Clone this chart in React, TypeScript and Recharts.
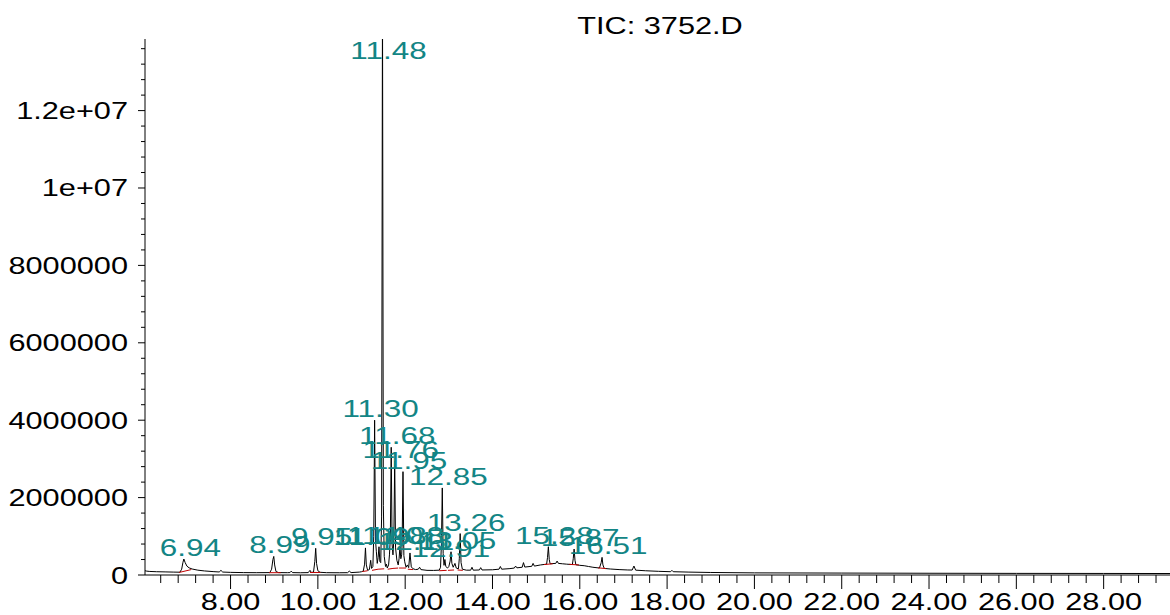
import React from 'react';
import { LineChart, Line, XAxis, YAxis } from 'recharts';

// ---- Data (retention time in min, abundance) ----
const ticTrace: [number, number][] = [
  [6.04, 110000], [6.08, 100000], [6.15, 92000], [6.3, 85000], [6.5, 80000], [6.7, 75000],
  [6.84, 72000], [6.88, 150000], [6.91, 330000], [6.93, 413000], [6.96, 320000], [7.0, 230000],
  [7.05, 185000], [7.12, 155000], [7.25, 125000], [7.4, 105000], [7.6, 88000], [7.74, 78000],
  [7.78, 120000], [7.82, 76000], [8.0, 68000], [8.3, 62000], [8.6, 60000], [8.9, 62000],
  [8.94, 150000], [8.97, 400000], [8.99, 480000], [9.01, 260000], [9.04, 90000], [9.1, 62000],
  [9.3, 60000], [9.36, 62000], [9.39, 100000], [9.42, 62000], [9.6, 58000], [9.78, 62000],
  [9.82, 120000], [9.85, 65000], [9.9, 75000], [9.93, 350000], [9.95, 690000], [9.97, 300000],
  [10.0, 110000], [10.05, 70000], [10.2, 60000], [10.5, 58000], [10.68, 60000], [10.72, 100000],
  [10.76, 62000], [10.95, 75000], [11.0, 85000], [11.04, 100000], [11.07, 280000], [11.09, 700000],
  [11.11, 260000], [11.14, 120000], [11.18, 140000], [11.21, 380000], [11.23, 170000], [11.26, 220000],
  [11.28, 1000000], [11.3, 4000000], [11.32, 900000], [11.34, 600000], [11.36, 300000], [11.38, 450000],
  [11.4, 730000], [11.42, 350000], [11.44, 320000], [11.46, 1500000], [11.48, 15000000], [11.5, 1800000],
  [11.52, 480000], [11.55, 220000], [11.57, 280000], [11.59, 180000], [11.62, 260000], [11.64, 520000],
  [11.66, 950000], [11.68, 3300000], [11.7, 800000], [11.72, 520000], [11.74, 900000], [11.76, 2950000],
  [11.78, 700000], [11.81, 380000], [11.84, 260000], [11.86, 420000], [11.88, 730000], [11.9, 420000],
  [11.92, 520000], [11.93, 800000], [11.95, 2670000], [11.97, 500000], [11.99, 340000], [12.02, 200000],
  [12.05, 260000], [12.08, 190000], [12.11, 570000], [12.14, 210000], [12.18, 160000], [12.24, 140000],
  [12.3, 150000], [12.33, 200000], [12.36, 140000], [12.5, 120000], [12.65, 118000], [12.78, 125000],
  [12.81, 200000], [12.83, 800000], [12.85, 2250000], [12.87, 550000], [12.89, 250000], [12.91, 400000],
  [12.93, 220000], [12.97, 180000], [13.0, 220000], [13.03, 360000], [13.05, 600000], [13.07, 300000],
  [13.1, 200000], [13.14, 300000], [13.17, 180000], [13.22, 160000], [13.24, 420000], [13.26, 1070000],
  [13.28, 320000], [13.31, 150000], [13.4, 125000], [13.5, 125000], [13.53, 200000], [13.56, 125000],
  [13.7, 130000], [13.73, 190000], [13.76, 130000], [14.0, 135000], [14.15, 150000], [14.18, 220000],
  [14.21, 150000], [14.4, 165000], [14.5, 180000], [14.53, 230000], [14.56, 185000], [14.68, 200000],
  [14.71, 320000], [14.74, 205000], [14.9, 225000], [14.93, 300000], [14.96, 230000], [15.1, 260000],
  [15.24, 280000], [15.26, 450000], [15.28, 730000], [15.3, 400000], [15.32, 290000], [15.45, 300000],
  [15.48, 360000], [15.51, 300000], [15.6, 290000], [15.7, 280000], [15.83, 270000], [15.85, 420000],
  [15.87, 670000], [15.89, 380000], [15.91, 265000], [16.0, 250000], [16.1, 240000], [16.2, 220000],
  [16.3, 200000], [16.45, 180000], [16.49, 320000], [16.51, 456000], [16.53, 260000], [16.56, 170000],
  [16.7, 155000], [16.9, 140000], [17.1, 130000], [17.2, 128000], [17.24, 232000], [17.28, 125000],
  [17.5, 110000], [17.8, 95000], [18.08, 85000], [18.11, 120000], [18.14, 85000], [18.5, 75000],
  [19.0, 65000], [20.0, 55000], [22.0, 50000], [24.0, 45000], [26.0, 42000], [28.0, 40000],
  [29.52, 38000],
];

const peakLabelTimes = [6.94, 8.99, 9.95, 11.09, 11.3, 11.4, 11.48, 11.68, 11.76, 11.88, 11.95, 12.11, 12.85, 12.91, 13.05, 13.26, 15.28, 15.87, 16.51];
const peakLabelTexts = ['6.94', '8.99', '9.95', '11.09', '11.30', '11.40', '11.48', '11.68', '11.76', '11.88', '11.95', '12.11', '12.85', '12.91', '13.05', '13.26', '15.28', '15.87', '16.51'];
const peakLabelHeights = [413000, 480000, 690000, 700000, 4000000, 730000, 15000000, 3300000, 2950000, 730000, 2670000, 570000, 2250000, 400000, 600000, 1070000, 730000, 670000, 456000];

// integration baselines: [tStart, vStart, tEnd, vEnd]
const integrationBaselines: [number, number, number, number][] = [
  [6.82, 65000, 7.1, 140000], [8.88, 60000, 9.15, 60000], [9.82, 65000, 10.06, 65000],
  [11.02, 90000, 11.14, 110000], [11.24, 120000, 11.38, 150000], [11.38, 150000, 11.52, 160000],
  [11.6, 150000, 11.72, 170000], [11.72, 170000, 11.84, 180000], [11.86, 180000, 12.02, 180000],
  [12.06, 150000, 12.18, 140000], [12.78, 110000, 12.95, 120000], [12.98, 120000, 13.12, 130000],
  [13.2, 130000, 13.32, 120000], [15.18, 270000, 15.38, 290000], [15.76, 275000, 15.98, 260000],
  [16.42, 185000, 16.6, 165000],
];

const xMajorTicks = [8, 10, 12, 14, 16, 18, 20, 22, 24, 26, 28];
const xTickLabels = ['8.00', '10.00', '12.00', '14.00', '16.00', '18.00', '20.00', '22.00', '24.00', '26.00', '28.00'];
const yMajorTicks = [0, 2000000, 4000000, 6000000, 8000000, 10000000, 12000000];
const yTickLabels = ['0', '2000000', '4000000', '6000000', '8000000', '1e+07', '1.2e+07'];
const titleText = 'TIC: 3752.D';

const X_DOMAIN: [number, number] = [6.04, 29.52];
const Y_DOMAIN: [number, number] = [0, 13850000];

const FONT = 'Liberation Sans, Arial, Helvetica, sans-serif';
const TEAL = '#138585';
const STRETCH = 1.28;

const xTicks: number[] = [];
for (let i = 0; i <= 57; i++) xTicks.push(Math.round((6.4 + i * 0.4) * 10) / 10);
const yTicks: number[] = [];
for (let i = 0; i <= 34; i++) yTicks.push(i * 400000);

const traceData = ticTrace.map(([t, v]) => ({ t, v }));
const labelData = peakLabelTimes.map((t, i) => ({ t, v: peakLabelHeights[i], text: peakLabelTexts[i] }));
const baselineData: { t: number; v: number | null }[] = [];
integrationBaselines.forEach(([t1, v1, t2, v2]) => {
  baselineData.push({ t: t1, v: v1 });
  baselineData.push({ t: t2, v: v2 });
  baselineData.push({ t: t2, v: null });
});

const XTick = (props: any) => {
  const { x, y, payload } = props;
  const idx = xMajorTicks.findIndex((m) => Math.abs(m - payload.value) < 1e-6);
  const major = idx >= 0;
  return (
    <g>
      <line x1={x} y1={y} x2={x} y2={y + (major ? 14 : 8)} stroke="#000" strokeWidth={1} />
      {major && (
        <g transform={`translate(${x},${y + 35}) scale(${STRETCH},1)`}>
          <text x={0} y={0} textAnchor="middle" fontSize={24} fontFamily={FONT} fill="#000">
            {xTickLabels[idx]}
          </text>
        </g>
      )}
    </g>
  );
};

const YTick = (props: any) => {
  const { x, y, payload } = props;
  const idx = yMajorTicks.indexOf(payload.value);
  const major = idx >= 0;
  return (
    <g>
      <line x1={x - (major ? 7 : 4)} y1={y} x2={x} y2={y} stroke="#000" strokeWidth={1} />
      {major && (
        <g transform={`translate(${x - 17},${y + 8.5}) scale(${STRETCH},1)`}>
          <text x={0} y={0} textAnchor="end" fontSize={24} fontFamily={FONT} fill="#000">
            {yTickLabels[idx]}
          </text>
        </g>
      )}
    </g>
  );
};

const PeakLabel = (props: any) => {
  const { cx, cy, payload, index } = props;
  if (cx == null || cy == null || !payload) return <g key={`pl-${index}`} />;
  const by = Math.max(cy - 3, 59);
  return (
    <g key={`pl-${index}`} transform={`translate(${cx + 6},${by}) scale(1.31,1)`}>
      <text x={0} y={0} textAnchor="middle" fontSize={24} fontFamily={FONT} fill={TEAL}>
        {payload.text}
      </text>
    </g>
  );
};

export default function App() {
  return (
    <div style={{ position: 'absolute', left: 0, top: 0, width: 1170, height: 615, overflow: 'hidden', background: '#fff' }}>
      <LineChart width={1170} height={615} margin={{ top: 39, right: 0, bottom: 0, left: 0 }}>
        <XAxis
          dataKey="t"
          type="number"
          domain={X_DOMAIN}
          allowDataOverflow
          ticks={xTicks}
          interval={0}
          tick={<XTick />}
          tickLine={false}
          tickSize={0}
          tickMargin={0}
          height={40}
          axisLine={{ stroke: '#000', strokeWidth: 1 }}
        />
        <YAxis
          dataKey="v"
          type="number"
          domain={Y_DOMAIN}
          allowDataOverflow
          ticks={yTicks}
          interval={0}
          tick={<YTick />}
          tickLine={false}
          tickSize={0}
          tickMargin={0}
          width={145}
          axisLine={{ stroke: '#000', strokeWidth: 1 }}
        />
        <Line data={traceData} dataKey="v" type="linear" stroke="#000" strokeWidth={1} dot={false} isAnimationActive={false} />
        <Line data={baselineData} dataKey="v" type="linear" stroke="#c00000" strokeWidth={1} dot={false} connectNulls={false} isAnimationActive={false} />
        <Line data={labelData} dataKey="v" type="linear" stroke="none" dot={PeakLabel} activeDot={false} isAnimationActive={false} />
      </LineChart>
      <svg width={1170} height={615} style={{ position: 'absolute', left: 0, top: 0, pointerEvents: 'none' }}>
        <g transform={`translate(660,34) scale(${STRETCH},1)`}>
          <text x={0} y={0} textAnchor="middle" fontSize={24} fontFamily={FONT} fill="#000">
            {titleText}
          </text>
        </g>
      </svg>
    </div>
  );
}
